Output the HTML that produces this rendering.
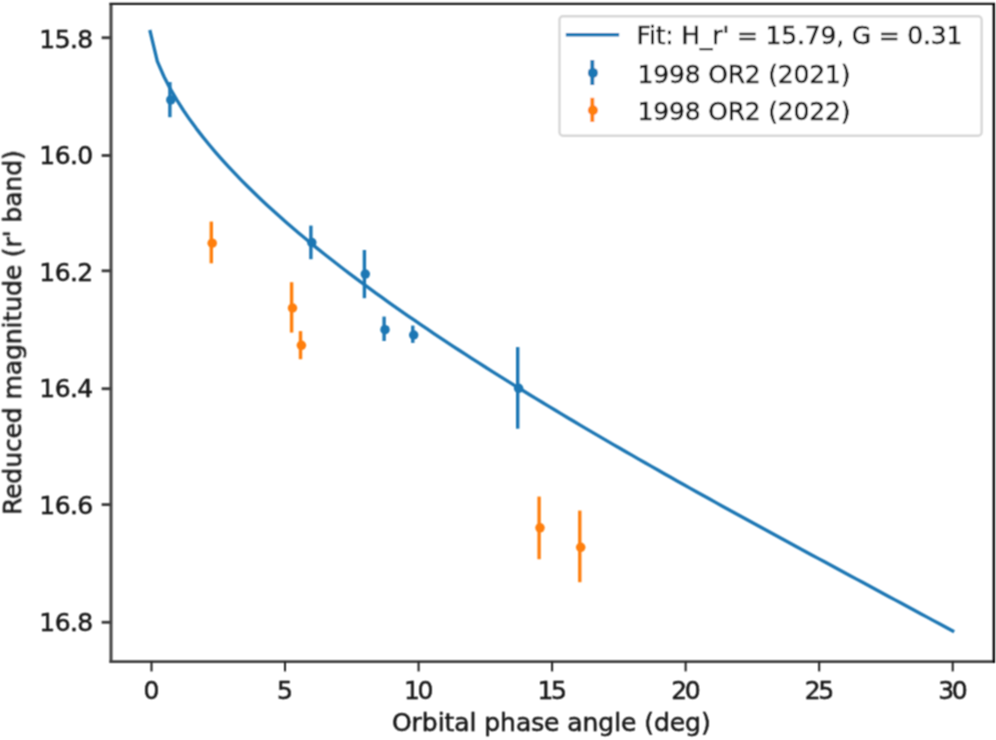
<!DOCTYPE html>
<html><head><meta charset="utf-8"><title>Phase curve</title>
<style>
html,body{margin:0;padding:0;background:#fff;}
body{width:996px;height:740px;overflow:hidden;}
svg{display:block;}
text{font-family:"DejaVu Sans","Liberation Sans",sans-serif;font-size:25px;fill:#161616;stroke:#161616;stroke-width:0.5px;}
</style></head><body>
<svg width="996" height="740" viewBox="0 0 996 740">
<defs><filter id="soft" x="0" y="0" width="996" height="740" filterUnits="userSpaceOnUse"><feConvolveMatrix order="3" kernelMatrix="1 2 1 2 4 2 1 2 1" divisor="16" edgeMode="duplicate" preserveAlpha="false"/></filter></defs>
<rect width="996" height="740" fill="#fff"/>
<g filter="url(#soft)">
<polyline points="150.20,31.63 157.33,61.33 164.06,76.74 170.61,89.36 177.09,100.45 183.52,110.52 189.95,119.85 196.36,128.60 202.78,136.88 209.19,144.78 215.60,152.35 222.01,159.63 228.42,166.66 234.83,173.47 241.24,180.09 247.65,186.53 254.05,192.81 260.46,198.94 266.87,204.93 273.28,210.80 279.69,216.56 286.10,222.21 292.51,227.76 298.92,233.21 305.33,238.58 311.74,243.87 318.15,249.08 324.56,254.22 330.97,259.29 337.38,264.29 343.79,269.23 350.20,274.11 356.61,278.94 363.02,283.71 369.43,288.43 375.84,293.10 382.25,297.73 388.66,302.31 395.07,306.85 401.48,311.35 407.89,315.81 414.30,320.23 420.71,324.62 427.12,328.97 433.53,333.28 439.94,337.57 446.35,341.82 452.75,346.05 459.16,350.24 465.57,354.41 471.98,358.55 478.39,362.66 484.80,366.75 491.21,370.82 497.62,374.86 504.03,378.88 510.44,382.87 516.85,386.85 523.26,390.80 529.67,394.74 536.08,398.65 542.49,402.55 548.90,406.43 555.31,410.29 561.72,414.13 568.13,417.96 574.54,421.77 580.95,425.57 587.36,429.35 593.77,433.11 600.18,436.86 606.59,440.60 613.00,444.33 619.41,448.04 625.82,451.74 632.23,455.42 638.64,459.10 645.05,462.76 651.46,466.41 657.86,470.05 664.27,473.68 670.68,477.30 677.09,480.92 683.50,484.52 689.91,488.11 696.32,491.69 702.73,495.26 709.14,498.83 715.55,502.39 721.96,505.93 728.37,509.47 734.78,513.01 741.19,516.53 747.60,520.05 754.01,523.57 760.42,527.07 766.83,530.57 773.24,534.06 779.65,537.55 786.06,541.03 792.47,544.51 798.88,547.98 805.29,551.45 811.70,554.92 818.11,558.38 824.52,561.84 830.93,565.31 837.34,568.77 843.75,572.22 850.16,575.68 856.56,579.14 862.97,582.59 869.38,586.05 875.79,589.50 882.20,592.96 888.61,596.41 895.02,599.87 901.43,603.32 907.84,606.78 914.25,610.23 920.66,613.69 927.07,617.14 933.48,620.60 939.89,624.06 946.30,627.51 952.71,630.97" fill="none" stroke="#1f77b4" stroke-width="3.35" stroke-linecap="square" stroke-linejoin="round"/>
<line x1="169.9" y1="82.1" x2="169.9" y2="117.2" stroke="#1f77b4" stroke-width="3.4"/>
<circle cx="170.8" cy="99.9" r="4.75" fill="#1f77b4"/>
<line x1="310.9" y1="225.6" x2="310.9" y2="259.2" stroke="#1f77b4" stroke-width="3.4"/>
<circle cx="311.8" cy="242.6" r="4.75" fill="#1f77b4"/>
<line x1="364.4" y1="250.0" x2="364.4" y2="298.2" stroke="#1f77b4" stroke-width="3.4"/>
<circle cx="365.3" cy="274.1" r="4.75" fill="#1f77b4"/>
<line x1="384.1" y1="316.6" x2="384.1" y2="341.0" stroke="#1f77b4" stroke-width="3.4"/>
<circle cx="385.0" cy="329.7" r="4.75" fill="#1f77b4"/>
<line x1="412.8" y1="325.6" x2="412.8" y2="342.9" stroke="#1f77b4" stroke-width="3.4"/>
<circle cx="413.7" cy="335.0" r="4.75" fill="#1f77b4"/>
<line x1="517.7" y1="347.1" x2="517.7" y2="428.7" stroke="#1f77b4" stroke-width="3.4"/>
<circle cx="518.6" cy="388.3" r="4.75" fill="#1f77b4"/>
<line x1="211.3" y1="221.6" x2="211.3" y2="263.3" stroke="#ff7f0e" stroke-width="3.4"/>
<circle cx="212.2" cy="243.2" r="4.75" fill="#ff7f0e"/>
<line x1="291.6" y1="282.2" x2="291.6" y2="332.6" stroke="#ff7f0e" stroke-width="3.4"/>
<circle cx="292.5" cy="308.0" r="4.75" fill="#ff7f0e"/>
<line x1="300.5" y1="331.1" x2="300.5" y2="359.2" stroke="#ff7f0e" stroke-width="3.4"/>
<circle cx="301.4" cy="345.3" r="4.75" fill="#ff7f0e"/>
<line x1="539.1" y1="496.6" x2="539.1" y2="559.2" stroke="#ff7f0e" stroke-width="3.4"/>
<circle cx="540.0" cy="527.8" r="4.75" fill="#ff7f0e"/>
<line x1="579.8" y1="510.6" x2="579.8" y2="582.2" stroke="#ff7f0e" stroke-width="3.4"/>
<circle cx="580.7" cy="547.3" r="4.75" fill="#ff7f0e"/>
<line x1="111.0" y1="2.9" x2="111.0" y2="663.0" stroke="#484848" stroke-width="3.1"/>
<line x1="109.5" y1="661.6" x2="994.9" y2="661.6" stroke="#404040" stroke-width="2.9"/>
<line x1="109.5" y1="3.9" x2="994.9" y2="3.9" stroke="#1c1c1c" stroke-width="2.2"/>
<line x1="993.8" y1="2.9" x2="993.8" y2="663.0" stroke="#000" stroke-width="2.3"/>
<line x1="151.50" y1="661.5" x2="151.50" y2="671.4" stroke="#1a1a1a" stroke-width="2.0"/>
<text x="151.50" y="698.8" text-anchor="middle">0</text>
<line x1="285.03" y1="661.5" x2="285.03" y2="671.4" stroke="#1a1a1a" stroke-width="2.0"/>
<text x="285.03" y="698.8" text-anchor="middle">5</text>
<line x1="418.57" y1="661.5" x2="418.57" y2="671.4" stroke="#1a1a1a" stroke-width="2.0"/>
<text x="417.57" y="698.8" text-anchor="middle" letter-spacing="-2.4">10</text>
<line x1="552.11" y1="661.5" x2="552.11" y2="671.4" stroke="#1a1a1a" stroke-width="2.0"/>
<text x="551.11" y="698.8" text-anchor="middle" letter-spacing="-2.4">15</text>
<line x1="685.64" y1="661.5" x2="685.64" y2="671.4" stroke="#1a1a1a" stroke-width="2.0"/>
<text x="684.64" y="698.8" text-anchor="middle" letter-spacing="-2.4">20</text>
<line x1="819.18" y1="661.5" x2="819.18" y2="671.4" stroke="#1a1a1a" stroke-width="2.0"/>
<text x="818.18" y="698.8" text-anchor="middle" letter-spacing="-2.4">25</text>
<line x1="952.71" y1="661.5" x2="952.71" y2="671.4" stroke="#1a1a1a" stroke-width="2.0"/>
<text x="951.71" y="698.8" text-anchor="middle" letter-spacing="-2.4">30</text>
<line x1="111.25" y1="37.70" x2="101.65" y2="37.70" stroke="#3c3c3c" stroke-width="2.9"/>
<text x="92.6" y="47.70" text-anchor="end" letter-spacing="-0.6">15.8</text>
<line x1="111.25" y1="155.50" x2="101.65" y2="155.50" stroke="#3c3c3c" stroke-width="2.9"/>
<text x="92.6" y="163.60" text-anchor="end" letter-spacing="-0.6">16.0</text>
<line x1="111.25" y1="270.80" x2="101.65" y2="270.80" stroke="#3c3c3c" stroke-width="2.9"/>
<text x="92.6" y="280.65" text-anchor="end" letter-spacing="-0.6">16.2</text>
<line x1="111.25" y1="388.70" x2="101.65" y2="388.70" stroke="#3c3c3c" stroke-width="2.9"/>
<text x="92.6" y="396.90" text-anchor="end" letter-spacing="-0.6">16.4</text>
<line x1="111.25" y1="504.60" x2="101.65" y2="504.60" stroke="#3c3c3c" stroke-width="2.9"/>
<text x="92.6" y="514.35" text-anchor="end" letter-spacing="-0.6">16.6</text>
<line x1="111.25" y1="622.30" x2="101.65" y2="622.30" stroke="#3c3c3c" stroke-width="2.9"/>
<text x="92.6" y="630.95" text-anchor="end" letter-spacing="-0.6">16.8</text>
<text x="551.3" y="731" text-anchor="middle" letter-spacing="-0.06">Orbital phase angle (deg)</text>
<text transform="translate(21.1,332.7) rotate(-90)" text-anchor="middle" letter-spacing="-0.085">Reduced magnitude (r' band)</text>
<rect x="559.5" y="16.2" width="422.1" height="119.5" rx="3.5" ry="3.5" fill="#fff" fill-opacity="0.8" stroke="#cdcdcd" stroke-opacity="0.8" stroke-width="2.4"/>
<line x1="567.5" y1="34.7" x2="617.5" y2="34.7" stroke="#1f77b4" stroke-width="3.35" stroke-linecap="square"/>
<line x1="592.3" y1="60.1" x2="592.3" y2="85.0" stroke="#1f77b4" stroke-width="3.9"/>
<circle cx="592.9" cy="72.9" r="5" fill="#1f77b4"/>
<line x1="592.3" y1="97.8" x2="592.3" y2="121.9" stroke="#ff7f0e" stroke-width="3.9"/>
<circle cx="592.9" cy="110.3" r="5" fill="#ff7f0e"/>
<text x="636.5" y="43.6" letter-spacing="-0.165">Fit: H_r' = 15.79, G = 0.31</text>
<text x="637.6" y="83.0" letter-spacing="-0.2">1998 OR2 (2021)</text>
<text x="637.6" y="120.4" letter-spacing="-0.2">1998 OR2 (2022)</text>
</g></svg></body></html>
